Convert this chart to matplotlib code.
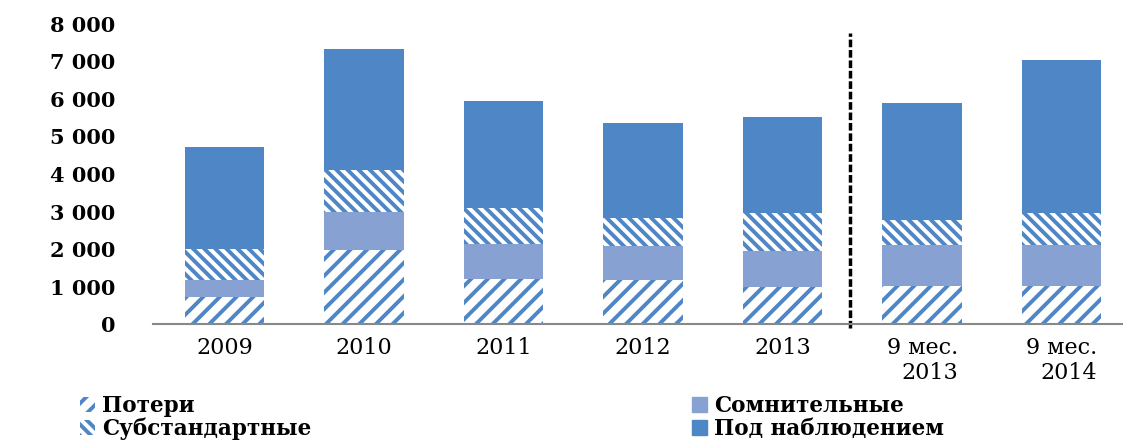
import numpy as np
import matplotlib.pyplot as plt
from matplotlib.patches import Patch

# --- data ---
categories = ['2009', '2010', '2011', '2012', '2013', '9 мес.\n2013', '9 мес.\n2014']
poteri = [720, 1970, 1200, 1170, 990, 1010, 1010]           # Потери
somnit = [450, 1020, 930, 910, 960, 1100, 1100]             # Сомнительные
substand = [830, 1120, 960, 750, 1010, 660, 850]            # Субстандартные
pod_nabl = [2720, 3220, 2860, 2530, 2560, 3120, 4080]       # Под наблюдением
y_ticks = [0, 1000, 2000, 3000, 4000, 5000, 6000, 7000, 8000]

BLUE = '#4F86C6'
LIGHT = '#87A2D2'

plt.rcParams['font.family'] = ['DejaVu Serif']
plt.rcParams['hatch.linewidth'] = 2.8

fig = plt.figure(figsize=(11.23, 4.41), dpi=100)
ax = fig.add_axes([0.136, 0.265, 0.864, 0.681])

x = np.arange(len(categories))
w = 0.57
b = np.zeros(len(x))

ax.bar(x, poteri, w, bottom=b, facecolor='white', edgecolor=BLUE, hatch='//', linewidth=0)
b += poteri
ax.bar(x, somnit, w, bottom=b, color=LIGHT, linewidth=0)
b += somnit
ax.bar(x, substand, w, bottom=b, facecolor='white', edgecolor=BLUE, hatch='\\\\\\', linewidth=0)
b += substand
ax.bar(x, pod_nabl, w, bottom=b, color=BLUE, linewidth=0)

# разделительная линия между годами и 9 мес.
ax.plot([4.48, 4.48], [-100, 7750], color='black', lw=2.5,
        linestyle=(0, (2.2, 0.8)), clip_on=False)

ax.set_xlim(-0.516, 6.44)
ax.set_ylim(0, 8000)
ax.set_yticks(y_ticks)
ax.set_yticklabels([f'{v:,}'.replace(',', ' ') for v in y_ticks],
                   fontweight='bold', fontsize=15)
ax.tick_params(axis='y', length=0, pad=27)
ax.set_xticks(x)
ax.set_xticklabels(categories, fontsize=16, multialignment='right')
ax.tick_params(axis='x', length=0, pad=9)

for s in ['top', 'right', 'left']:
    ax.spines[s].set_visible(False)
ax.spines['bottom'].set_color('#888888')
ax.spines['bottom'].set_linewidth(1.5)

h1 = [Patch(facecolor='white', edgecolor=BLUE, hatch='//', linewidth=0, label='Потери'),
      Patch(facecolor='white', edgecolor=BLUE, hatch='\\\\\\', linewidth=0, label='Субстандартные')]
h2 = [Patch(color=LIGHT, label='Сомнительные'),
      Patch(color=BLUE, label='Под наблюдением')]
leg_kw = dict(frameon=False, prop={'weight': 'bold', 'size': 15.5},
              handlelength=0.7, handleheight=0.7, handletextpad=0.3,
              labelspacing=0.02, borderpad=0, loc='upper left')
fig.legend(handles=h1, bbox_to_anchor=(0.062, 0.128), **leg_kw)
fig.legend(handles=h2, bbox_to_anchor=(0.607, 0.128), **leg_kw)

fig.savefig('out.png', dpi=100)
